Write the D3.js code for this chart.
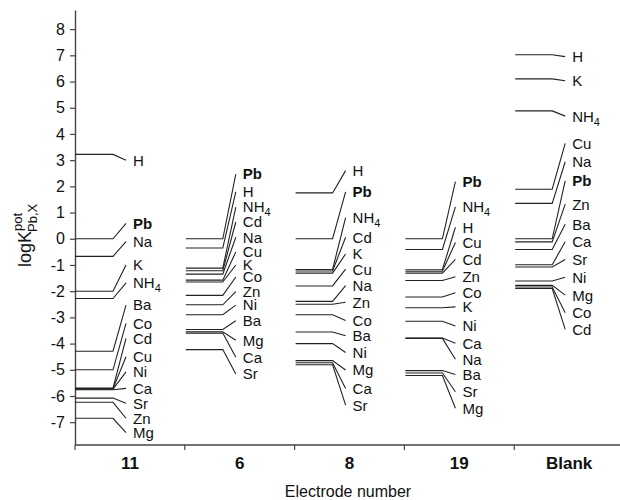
<!DOCTYPE html>
<html>
<head>
<meta charset="utf-8">
<script src="https://cdn.jsdelivr.net/npm/d3@7"></script>
<style>
body{margin:0;background:#fff}
svg{display:block;font-family:Arial,"Liberation Sans",sans-serif}
</style>
</head>
<body>
<svg id="chart" width="620" height="500"></svg>
<script>
// electrodes on the x axis
var electrodes = ["11","6","8","19","Blank"]

// ions, logK values and where each label sits (logK units), one set per electrode
var ions11 = ["H","Pb","Na","K","NH4","Ba","Co","Cd","Cu","Ni","Ca","Sr","Zn","Mg"]
var logK11 = [3.22,0,-0.67,-2.0,-2.28,-4.29,-5.0,-5.7,-5.72,-5.74,-5.76,-6.08,-6.24,-6.85]
var labelAt11 = [3.0,0.59,-0.11,-1.0,-1.68,-2.53,-3.23,-3.8,-4.5,-5.08,-5.71,-6.28,-6.85,-7.4]

var ions6 = ["Pb","H","NH4","Cd","Na","Cu","K","Co","Zn","Ni","Ba","Mg","Ca","Sr"]
var logK6 = [0,-0.35,-1.12,-1.22,-1.35,-1.58,-1.65,-2.16,-2.52,-2.9,-3.46,-3.55,-3.6,-4.23]
var labelAt6 = [2.47,1.79,1.21,0.64,0.06,-0.5,-1.0,-1.46,-2.02,-2.53,-3.13,-3.87,-4.52,-5.16]

var ions8 = ["H","Pb","NH4","Cd","K","Cu","Na","Zn","Co","Ba","Ni","Mg","Ca","Sr"]
var logK8 = [1.75,0,-1.17,-1.23,-1.31,-1.8,-2.39,-2.5,-2.9,-3.56,-4.0,-4.65,-4.73,-4.81]
var labelAt8 = [2.6,1.79,0.81,0.06,-0.58,-1.16,-1.79,-2.42,-3.12,-3.7,-4.34,-5.01,-5.71,-6.35]

var ions19 = ["Pb","NH4","H","Cu","Cd","Zn","Co","K","Ni","Ca","Na","Ba","Sr","Mg"]
var logK19 = [0,-0.41,-1.18,-1.24,-1.31,-1.59,-2.22,-2.63,-3.15,-3.79,-3.8,-5.03,-5.12,-5.22]
var labelAt19 = [2.18,1.22,0.44,-0.14,-0.79,-1.45,-2.06,-2.6,-3.33,-3.99,-4.6,-5.18,-5.84,-6.47]

var ionsBlank = ["H","K","NH4","Cu","Na","Pb","Zn","Ba","Ca","Sr","Ni","Mg","Co","Cd"]
var logKBlank = [7.02,6.1,4.88,1.89,1.35,0,-0.12,-0.41,-0.99,-1.08,-1.61,-1.78,-1.84,-1.9]
var labelAtBlank = [6.95,6.03,4.68,3.64,2.94,2.21,1.32,0.55,-0.11,-0.79,-1.47,-2.15,-2.82,-3.46]

var yTicks = d3.range(-7, 9)

var sets = [
	{e:"11", ions:ions11, k:logK11, at:labelAt11},
	{e:"6", ions:ions6, k:logK6, at:labelAt6},
	{e:"8", ions:ions8, k:logK8, at:labelAt8},
	{e:"19", ions:ions19, k:logK19, at:labelAt19},
	{e:"Blank", ions:ionsBlank, k:logKBlank, at:labelAtBlank}
]

var svg = d3.select("#chart")
svg.append("rect").attr("width",620).attr("height",500).attr("fill","#fff")

var x = d3.scaleBand().domain(electrodes).range([75,624])
var y = d3.scaleLinear().domain([-7.87,8.73]).range([445,10])

var axisColor = "#444"

// y axis
var gy = svg.append("g").attr("transform","translate(75,0)")
	.call(d3.axisLeft(y).tickValues(yTicks).tickSize(5).tickSizeOuter(0).tickPadding(5).tickFormat(d => String(d)))
gy.select(".domain").attr("stroke",axisColor).attr("stroke-width",1.4)
gy.selectAll(".tick line").attr("stroke",axisColor).attr("stroke-width",1.2)
gy.selectAll(".tick text").attr("font-size",16).attr("font-family","Arial, 'Liberation Sans', sans-serif").attr("fill","#111")

// x axis
var gx = svg.append("g").attr("transform","translate(0,445)")
	.call(d3.axisBottom(x).tickSize(0).tickPadding(12))
gx.select(".domain").remove()
gx.selectAll(".tick text").attr("font-size",17).attr("font-weight","bold")
	.attr("font-family","Arial, 'Liberation Sans', sans-serif").attr("fill","#111")
gx.append("line").attr("x1",75).attr("x2",620).attr("stroke",axisColor).attr("stroke-width",1.4)
gx.selectAll(".bound").data(electrodes).enter().append("line").attr("class","bound")
	.attr("x1",d => x(d)).attr("x2",d => x(d)).attr("y1",0).attr("y2",5)
	.attr("stroke",axisColor).attr("stroke-width",1.2)

// axis titles
svg.append("text").attr("x",348).attr("y",497).attr("text-anchor","middle")
	.attr("font-size",16).attr("fill","#111").text("Electrode number")

var yt = svg.append("text").attr("transform","translate(31,267) rotate(-90)")
	.attr("font-size",18).attr("fill","#111")
yt.append("tspan").text("logK")
yt.append("tspan").attr("font-size",13).attr("dy",-9).text("pot")
yt.append("tspan").attr("font-size",13).attr("dx",-19).attr("dy",15).text("Pb,X")

// ladder of lines, connectors and labels for each electrode
sets.forEach(function(s){
	var bx = x(s.e)
	var g = svg.append("g")
	var rows = s.ions.map((ion,i) => ({ion:ion, k:s.k[i], at:s.at[i]}))

	g.selectAll("path").data(rows).enter().append("path")
		.attr("d", d => "M" + (s.e=="11" ? bx : bx+1) + "," + y(d.k) + "H" + (bx+38) + "L" + (bx+51) + "," + y(d.at))
		.attr("fill","none").attr("stroke","#222").attr("stroke-width",1.1)

	var t = g.selectAll("text").data(rows).enter().append("text")
		.attr("x", bx+58).attr("y", d => y(d.at)).attr("dy","0.36em")
		.attr("font-size",15).attr("fill","#111")
		.attr("font-weight", d => d.ion=="Pb" ? "bold" : "normal")
	t.each(function(d){
		var el = d3.select(this)
		if(d.ion=="NH4"){
			el.append("tspan").text("NH")
			el.append("tspan").attr("font-size",11).attr("dy",4).text("4")
		} else {
			el.text(d.ion)
		}
	})
})
</script>
</body>
</html>
